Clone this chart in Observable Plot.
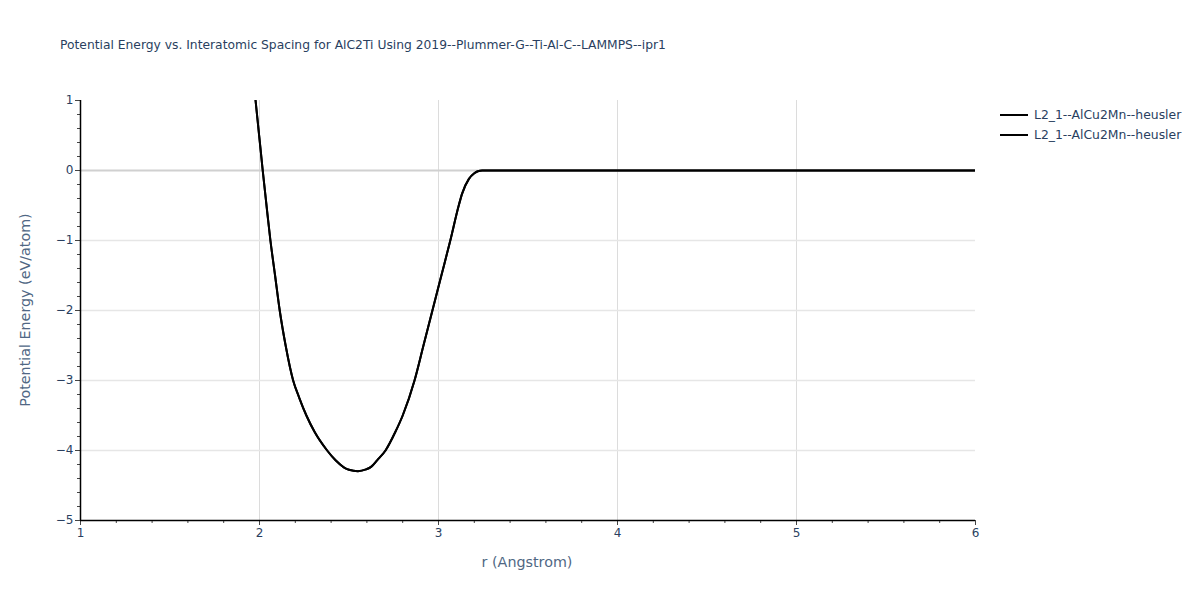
<!DOCTYPE html>
<html>
<head>
<meta charset="utf-8">
<script src="https://cdn.jsdelivr.net/npm/d3@7"></script>
<script src="https://cdn.jsdelivr.net/npm/@observablehq/plot@0.6"></script>
<style>
  html, body { margin: 0; padding: 0; background: #fff; }
  #wrap { position: relative; width: 1200px; height: 600px; font-family: "DejaVu Sans", Verdana, sans-serif; color: #2a3f5f; }
  #wrap svg { position: absolute; left: 0; top: 0; }
  .abs { position: absolute; white-space: nowrap; }
  #title { left: 60px; top: 38px; font-size: 12.3px; color: #2a3f5f; }
  #xlab { left: 527px; top: 554px; font-size: 14.3px; transform: translateX(-50%); color: #506784; }
  #ylab { left: 25px; top: 310px; font-size: 14.3px; transform: translate(-50%, -50%) rotate(-90deg); color: #506784; }
  .leg { left: 1000px; font-size: 12.4px; display: flex; align-items: center; color: #2a3f5f; }
  .leg span.sw { display: inline-block; width: 28px; height: 2px; background: #000; margin-right: 6px; }
</style>
</head>
<body>
<div id="wrap"></div>
<script>
// Data
const rValues = [1.978, 1.998, 2.018, 2.04, 2.061, 2.087, 2.113, 2.146, 2.188, 2.221, 2.262, 2.309, 2.378, 2.425, 2.471, 2.50, 2.55, 2.595, 2.625, 2.657, 2.704, 2.758, 2.80, 2.866, 2.916, 2.966, 3.016, 3.066, 3.113, 3.132, 3.17, 3.20, 3.22, 3.244, 3.5, 4.0, 4.5, 5.0, 5.5, 6.0];
const energyValues = [1.0, 0.5, 0.0, -0.52, -1.0, -1.5, -2.0, -2.5, -3.0, -3.24, -3.5, -3.74, -4.0, -4.14, -4.24, -4.275, -4.295, -4.27, -4.23, -4.14, -4.0, -3.74, -3.5, -3.0, -2.5, -2.0, -1.5, -1.0, -0.5, -0.33, -0.12, -0.04, -0.01, 0.0, 0.0, 0.0, 0.0, 0.0, 0.0, 0.0];
const seriesNames = ["L2_1--AlCu2Mn--heusler", "L2_1--AlCu2Mn--heusler"];
const xTicks = [1, 2, 3, 4, 5, 6];
const yTicks = [1, 0, -1, -2, -3, -4, -5];
const titleText = "Potential Energy vs. Interatomic Spacing for AlC2Ti Using 2019--Plummer-G--Ti-Al-C--LAMMPS--ipr1";
const xLabel = "r (Angstrom)";
const yLabel = "Potential Energy (eV/atom)";

const data = seriesNames.flatMap((s, i) => rValues.map((r, j) => ({ r, E: energyValues[j], s: i })));
const xMinor = d3.range(1, 6.001, 0.2).map(v => +v.toFixed(2));
const yMinor = d3.range(-5, 1.001, 0.2).map(v => +v.toFixed(2));
const fmt = d => d < 0 ? "\u2212" + Math.abs(d) : String(d);

const chart = Plot.plot({
  width: 1200,
  height: 600,
  marginLeft: 80,
  marginRight: 225,
  marginTop: 100,
  marginBottom: 80,
  x: { domain: [1, 6] },
  y: { domain: [-5, 1] },
  style: { fontFamily: "'DejaVu Sans', Verdana, sans-serif", fontSize: "12px", color: "#2a3f5f", background: "white" },
  marks: [
    Plot.gridX([2, 3, 4, 5], { stroke: "#dcdcdc", strokeOpacity: 1 }),
    Plot.gridY([-4, -3, -2, -1], { stroke: "#e6e6e6", strokeOpacity: 1, strokeWidth: 1.5 }),
    Plot.ruleY([0], { stroke: "#d0d0d0", strokeWidth: 2 }),
    Plot.line(data, { x: "r", y: "E", z: "s", stroke: "#000", strokeWidth: 2, curve: "monotone-x", clip: true }),
    Plot.axisX(xMinor, { tickSize: 3, tickFormat: () => "", stroke: "#444", label: null }),
    Plot.axisX(xTicks, { tickSize: 5, tickPadding: 3, tickFormat: fmt, label: null, stroke: "#444" }),
    Plot.axisY(yMinor, { tickSize: 3, tickFormat: () => "", stroke: "#444", label: null }),
    Plot.axisY(yTicks, { tickSize: 5, tickPadding: 2, tickFormat: fmt, label: null, stroke: "#444" }),
    Plot.ruleX([1], { stroke: "#000", strokeWidth: 1.5 }),
    Plot.ruleY([-5], { stroke: "#000", strokeWidth: 1.5 })
  ]
});

const wrap = document.getElementById("wrap");
wrap.appendChild(chart);

function addDiv(id, cls, text) {
  const d = document.createElement("div");
  if (id) d.id = id;
  d.className = cls;
  d.textContent = text;
  wrap.appendChild(d);
  return d;
}
addDiv("title", "abs", titleText);
addDiv("xlab", "abs", xLabel);
addDiv("ylab", "abs", yLabel);
seriesNames.forEach((name, i) => {
  const d = document.createElement("div");
  d.className = "abs leg";
  d.style.top = (107 + i * 20) + "px";
  const sw = document.createElement("span");
  sw.className = "sw";
  d.appendChild(sw);
  d.appendChild(document.createTextNode(name));
  wrap.appendChild(d);
});
</script>
</body>
</html>
